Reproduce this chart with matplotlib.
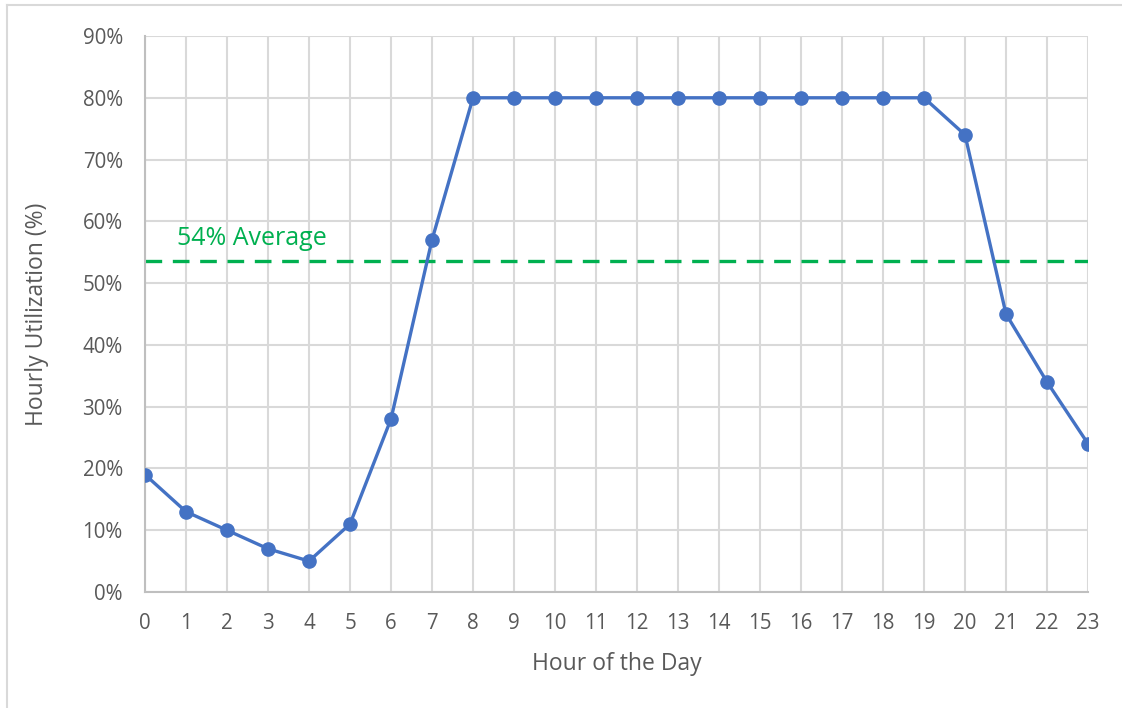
import matplotlib
matplotlib.use("Agg")
import matplotlib.pyplot as plt
from matplotlib.lines import Line2D

hours = list(range(24))
utilization = [19, 13, 10, 7, 5, 11, 28, 57, 80, 80, 80, 80, 80, 80, 80, 80, 80, 80, 80, 80, 74, 45, 34, 24]
average = sum(utilization) / len(utilization)
y_ticks = [0, 10, 20, 30, 40, 50, 60, 70, 80, 90]
avg_label = "54% Average"
x_label = "Hour of the Day"
y_label = "Hourly Utilization (%)"

plt.rcParams['font.family'] = ['Open Sans', 'DejaVu Sans']
text_color = '#595959'
W, H = 1122, 708
fig = plt.figure(figsize=(W / 100, H / 100), dpi=100)
ax = fig.add_axes([145 / W, 1 - 592 / H, (1088 - 145) / W, (592 - 36) / H])

ax.plot(hours, utilization, color='#4472c4', linewidth=2.4, marker='o',
        markersize=9.5, zorder=3, solid_capstyle='round')
ax.axhline(average, color='#00b050', linewidth=2.4, linestyle=(0, (5, 3.2)), zorder=2)
ax.text(0.78, average + 1.6, avg_label, color='#00b050', fontsize=18, va='bottom', ha='left')

ax.set_xlim(0, 23)
ax.set_ylim(0, 90)
ax.set_xticks(hours)
ax.set_yticks(y_ticks)
ax.set_yticklabels([f"{v}%" for v in y_ticks])
ax.grid(True, color='#d9d9d9', linewidth=1.5, zorder=0)
ax.set_axisbelow(True)
for s in ['top', 'right']:
    ax.spines[s].set_visible(False)
for s in ['left', 'bottom']:
    ax.spines[s].set_color('#bfbfbf')
    ax.spines[s].set_linewidth(1.5)
ax.tick_params(axis='x', length=0, labelsize=14.8, colors=text_color, pad=15)
ax.tick_params(axis='y', length=0, labelsize=14.8, colors=text_color, pad=16)
ax.set_xlabel(x_label, fontsize=16.5, color=text_color, labelpad=13)
ax.set_ylabel(y_label, fontsize=16.5, color=text_color, labelpad=24)

# chart border (top and left visible)
fig.add_artist(Line2D([7 / W, 1.0], [1 - 5 / H, 1 - 5 / H], color='#d9d9d9', linewidth=1.5, transform=fig.transFigure))
fig.add_artist(Line2D([7 / W, 7 / W], [0, 1 - 5 / H], color='#d9d9d9', linewidth=1.5, transform=fig.transFigure))

fig.savefig("out.png", dpi=100, facecolor='white')
